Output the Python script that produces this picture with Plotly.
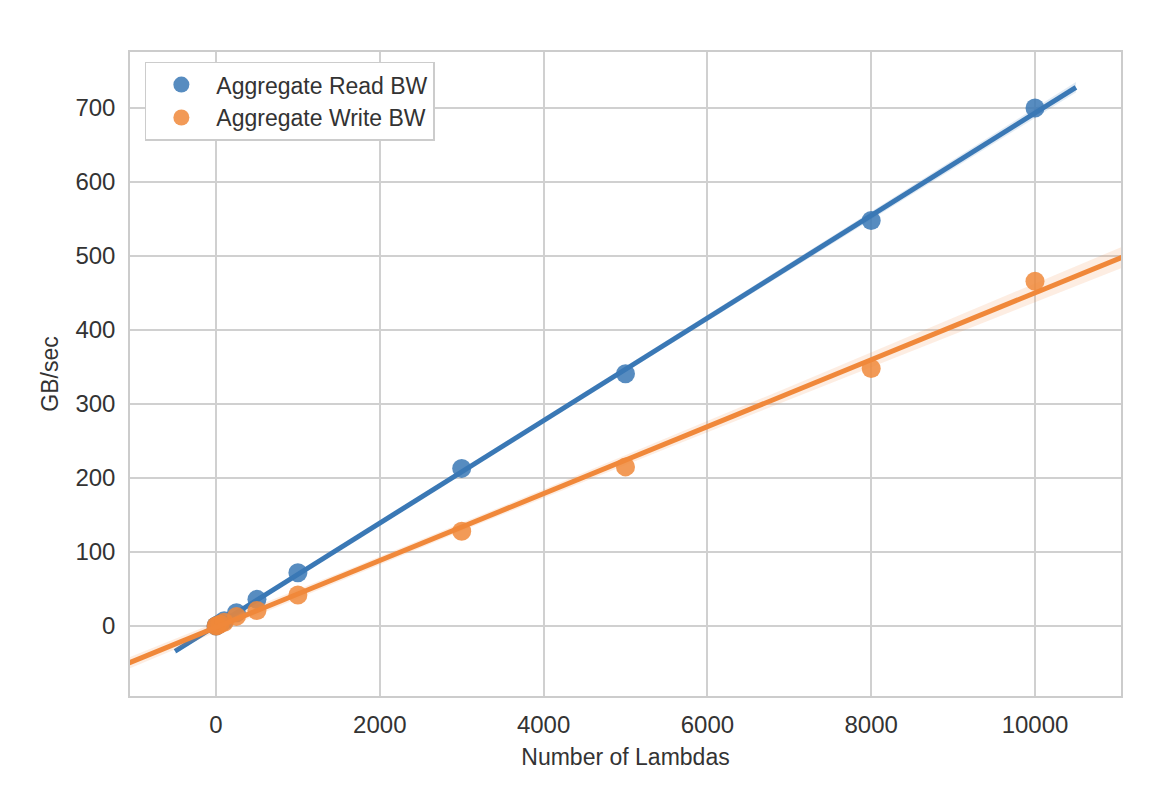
import numpy as np
import plotly.graph_objects as go

lambdas_read = [0, 10, 50, 100, 250, 500, 1000, 3000, 5000, 8000, 10000]
read_bw = [0, 0.7, 3.5, 7, 18, 36, 72, 213, 341, 548, 700]
lambdas_write = [0, 10, 50, 100, 250, 500, 1000, 3000, 5000, 8000, 10000]
write_bw = [0, 0.5, 2.5, 5, 13, 21, 42, 128, 215, 348, 466]
x_ticks = [0, 2000, 4000, 6000, 8000, 10000]
y_ticks = [0, 100, 200, 300, 400, 500, 600, 700]

BLUE = '#3a78b5'
ORANGE = '#f0883a'


def fit_band(x, y, xs):
    x = np.asarray(x, float)
    y = np.asarray(y, float)
    b, a = np.polyfit(x, y, 1)
    yhat = a + b * xs
    resid = y - (a + b * x)
    n = len(x)
    s = np.sqrt(np.sum(resid ** 2) / (n - 2))
    se = s * np.sqrt(1 / n + (xs - x.mean()) ** 2 / np.sum((x - x.mean()) ** 2))
    return yhat, yhat - 2.26 * se, yhat + 2.26 * se


fig = go.Figure()

for xs_lim, xd, yd, color, name in [
    ((-500, 10500), lambdas_read, read_bw, BLUE, 'Aggregate Read BW'),
    ((-1100, 11100), lambdas_write, write_bw, ORANGE, 'Aggregate Write BW'),
]:
    xs = np.linspace(xs_lim[0], xs_lim[1], 100)
    yhat, lo, hi = fit_band(xd, yd, xs)
    fig.add_trace(go.Scatter(x=np.concatenate([xs, xs[::-1]]), y=np.concatenate([hi, lo[::-1]]),
                             fill='toself', fillcolor=color, opacity=0.15, line=dict(width=0),
                             showlegend=False, hoverinfo='skip'))
    fig.add_trace(go.Scatter(x=xd, y=yd, mode='markers', name=name,
                             marker=dict(color=color, size=19, opacity=0.85)))
    fig.add_trace(go.Scatter(x=xs, y=yhat, mode='lines', line=dict(color=color, width=5),
                             showlegend=False))

fig.update_layout(
    width=1156, height=790, plot_bgcolor='white', paper_bgcolor='white',
    margin=dict(l=122, r=43, t=44, b=102, autoexpand=False),
    font=dict(family='Liberation Sans, Arial', size=23, color='#333'),
    legend=dict(x=0.015, y=0.985, bgcolor='white', bordercolor='#ccc', borderwidth=1.5,
                font=dict(size=23), itemwidth=60, tracegroupgap=8),
)
fig.update_xaxes(range=[-1050, 11050], tickvals=x_ticks, ticktext=[str(v) for v in x_ticks],
                 showgrid=True, gridcolor='#d0d0d0', gridwidth=1.5, zeroline=False,
                 showline=True, linecolor='#ccc', linewidth=1.5, mirror=True,
                 tickfont=dict(size=24), ticklen=6, ticks='outside', tickcolor='white',
                 title=dict(text='Number of Lambdas', font=dict(size=23), standoff=12))
fig.update_yaxes(range=[-94.6, 775.7], tickvals=y_ticks,
                 showgrid=True, gridcolor='#d0d0d0', gridwidth=1.5, zeroline=False,
                 showline=True, linecolor='#ccc', linewidth=1.5, mirror=True,
                 tickfont=dict(size=24), ticklen=8, ticks='outside', tickcolor='white',
                 title=dict(text='GB/sec', font=dict(size=23), standoff=10))

fig.write_html('out.html')
